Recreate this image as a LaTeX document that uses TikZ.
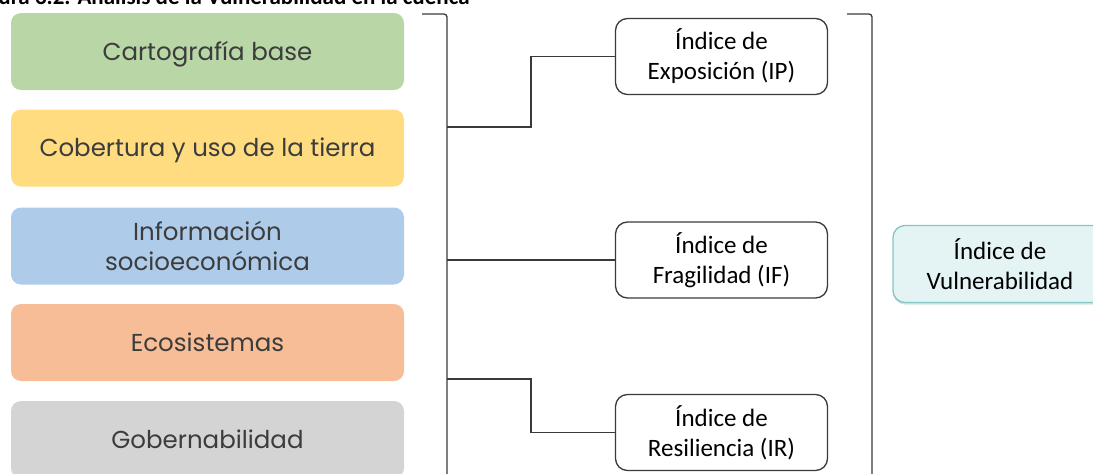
\documentclass[tikz,border=0pt]{standalone}
\usepackage{fontspec}
\setmainfont{Carlito}
\newfontfamily\boxfont{Poppins}
\usetikzlibrary{shadows}
\definecolor{boxgreen}{HTML}{B8D6A6}
\definecolor{boxyellow}{HTML}{FFDC80}
\definecolor{boxblue}{HTML}{AECBEA}
\definecolor{boxorange}{HTML}{F6BD97}
\definecolor{boxgray}{HTML}{D4D4D4}
\definecolor{boxtext}{HTML}{3C3C3C}
\definecolor{vulnfill}{HTML}{E4F3F3}
\definecolor{vulnedge}{HTML}{86C4C6}
\definecolor{linegray}{HTML}{3A3A3A}

\begin{document}
\begin{tikzpicture}[x=1pt,y=-1pt,
  source/.style={rounded corners=10pt,minimum width=393pt,minimum height=77pt,align=center,
    text=boxtext,font=\boxfont\fontsize{24.5}{30}\selectfont,inner sep=0pt},
  oneline/.style={text height=17pt,text depth=0pt},
  index/.style={draw=linegray,line width=1.3pt,rounded corners=12pt,minimum width=212pt,
    minimum height=76pt,align=center,font=\fontsize{25}{30}\selectfont,inner sep=0pt},
  link/.style={draw=linegray,line width=1.3pt}]
\useasboundingbox (0,0) rectangle (1093,474);
\node[anchor=base east,font=\bfseries\fontsize{23}{26}\selectfont] (title) at (473,4) {Figura 3.2. Análisis de la Vulnerabilidad en la cuenca};
\node[source,oneline,fill=boxgreen] (cart) at (207.5,51.5) {Cartografía base};
\node[source,oneline,fill=boxyellow] (cob) at (207.5,148) {Cobertura y uso de la tierra};
\node[source,fill=boxblue] (info) at (207.5,246) {Información\\socioeconómica};
\node[source,oneline,fill=boxorange] (eco) at (207.5,342.5) {Ecosistemas};
\node[source,oneline,fill=boxgray] (gob) at (207.5,439.5) {Gobernabilidad};
\node[index] (ip) at (721.5,56.5) {Índice de\\Exposición (IP)};
\node[index] (ifr) at (721.5,260) {Índice de\\Fragilidad (IF)};
\node[index] (ir) at (721.5,432.5) {Índice de\\Resiliencia (IR)};
\node[index,draw=vulnedge,fill=vulnfill,minimum width=214pt,minimum height=77pt,
  drop shadow={shadow xshift=0pt,shadow yshift=-2pt,fill=vulnedge!70,opacity=.6}] (iv) at (1000,264) {Índice de\\Vulnerabilidad};
\coordinate (lt) at (422,14);
\coordinate (lb) at (447,480);
\coordinate (rt) at (847,14);
\coordinate (rb) at (872,480);
\draw[link,rounded corners=3pt] (lt) -| (lb);
\draw[link,rounded corners=3pt] (rt) -| (rb);
\draw[link] (447,127) -- (531,127) |- (ip.west);
\draw[link] (447,260) -- (ifr.west);
\draw[link] (447,379) -- (531,379) |- (ir.west);
\end{tikzpicture}
\end{document}
